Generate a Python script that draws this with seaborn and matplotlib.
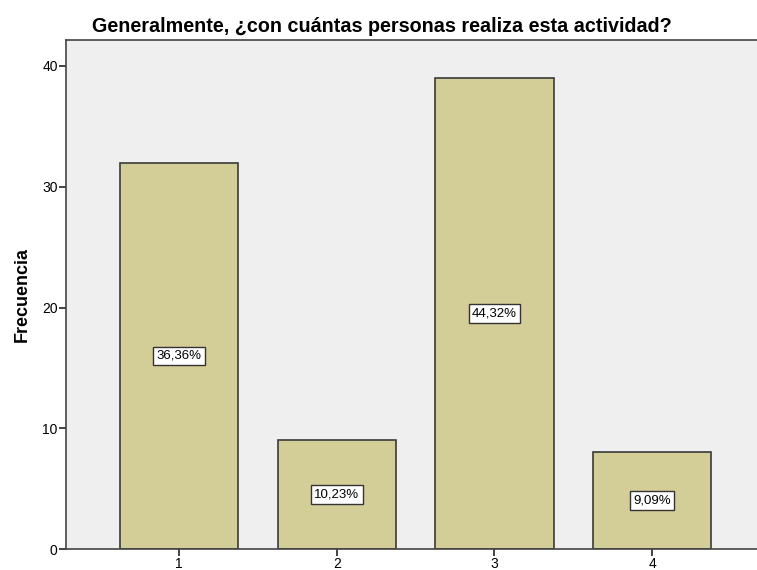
import matplotlib
matplotlib.use("Agg")
import matplotlib.pyplot as plt
import seaborn as sns
import pandas as pd

categorias = ["1", "2", "3", "4"]
frecuencias = [32, 9, 39, 8]
porcentajes = ["36,36%", "10,23%", "44,32%", "9,09%"]

sns.set_style("white")
plt.rcParams["font.family"] = ["Liberation Sans", "DejaVu Sans"]

df = pd.DataFrame({"categoria": categorias, "frecuencia": frecuencias})

fig = plt.figure(figsize=(7.57, 5.70), dpi=100)
ax = fig.add_axes([0.0872, 0.0368, 0.9128, 0.893])
ax.set_facecolor("#EFEFEF")

sns.barplot(data=df, x="categoria", y="frecuencia", ax=ax,
            color="#D3CE97", saturation=1, width=0.75,
            edgecolor="#3A3A3A", linewidth=1.2)

for i, (v, p) in enumerate(zip(frecuencias, porcentajes)):
    ax.text(i, v / 2, p, ha="center", va="center", fontsize=9.5, color="black",
            bbox=dict(boxstyle="square,pad=0.25", facecolor="white",
                      edgecolor="#333333", linewidth=1.0))

ax.set_xlim(-0.717, 3.665)
ax.set_ylim(0, 42.15)
ax.set_yticks([0, 10, 20, 30, 40])
ax.set_xlabel("")
ax.set_ylabel("Frecuencia", fontsize=13, fontweight="bold", labelpad=8,
              color="black")
ax.set_title("Generalmente, ¿con cuántas personas realiza esta actividad?",
             fontsize=14.2, fontweight="bold", pad=6, x=0.457, color="black")

for side in ["left", "bottom", "top"]:
    ax.spines[side].set_visible(True)
    ax.spines[side].set_color("#444444")
    ax.spines[side].set_linewidth(1.2)
ax.spines["right"].set_visible(False)

ax.tick_params(axis="both", direction="out", length=5, width=1.2,
               color="#222222", labelsize=10, pad=1, labelcolor="black",
               left=True, bottom=True)

fig.savefig("out.png", dpi=100, facecolor="white")
